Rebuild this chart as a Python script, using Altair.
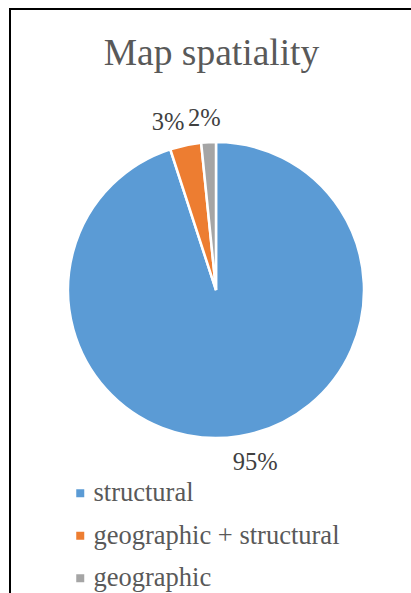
import altair as alt
import pandas as pd

# ---- data ----
categories = ["structural", "geographic + structural", "geographic"]
shares = [95.0, 3.4, 1.6]
pct_labels = ["95%", "3%", "2%"]
colors = ["#5B9BD5", "#ED7D31", "#A5A5A5"]
title_text = "Map spatiality"

df = pd.DataFrame({
    "category": categories,
    "value": shares,
    "label": pct_labels,
    "order": list(range(len(categories))),
})
total = float(sum(shares))

FONT = "Liberation Serif"
CX, CY, R = 216, 290, 148

base = alt.Chart(df)

theta_scale = alt.Scale(domain=[0, total])

arcs = base.mark_arc(radius=R, stroke="white", strokeWidth=2.5).encode(
    theta=alt.Theta("value:Q", stack=True, scale=theta_scale),
    order=alt.Order("order:O"),
    color=alt.Color(
        "category:N",
        scale=alt.Scale(domain=categories, range=colors),
        sort=categories,
        title=None,
        legend=alt.Legend(
            orient="none",
            legendX=67,
            legendY=480,
            padding=0,
            symbolType="square",
            symbolSize=64,
            symbolStrokeWidth=0,
            labelFont=FONT,
            labelFontSize=26.5,
            labelColor="#595959",
            labelOffset=0,
            rowPadding=15.5,
            labelLimit=400,
        ),
    ),
    x=alt.value(CX),
    y=alt.value(CY),
)

label_base = base.transform_window(
    cum="sum(value)", sort=[alt.SortField("order")], frame=[None, 0]
).transform_calculate(mid="datum.cum - datum.value / 2")


def label_layer(cat, dx, dy):
    return label_base.transform_filter(alt.datum.category == cat).mark_text(
        radius=174, font=FONT, fontSize=24.5, color="#404040",
        align="center", baseline="middle", dx=dx, dy=dy,
    ).encode(
        theta=alt.Theta("mid:Q", stack=False, scale=theta_scale),
        text="label:N",
        x=alt.value(CX),
        y=alt.value(CY),
    )


labels = (
    label_layer(categories[0], 12, 1)
    + label_layer(categories[1], -12, 3)
    + label_layer(categories[2], -3, 3)
)

title = alt.Chart(pd.DataFrame({"t": [title_text]})).mark_text(
    font=FONT, fontSize=37.5, color="#595959", align="center", baseline="alphabetic"
).encode(text="t:N", x=alt.value(211.5), y=alt.value(64.5))

border_top = alt.Chart(pd.DataFrame({"a": [0]})).mark_rule(color="black", strokeWidth=2).encode(
    x=alt.value(9), x2=alt.value(411), y=alt.value(9)
)
border_left = alt.Chart(pd.DataFrame({"a": [0]})).mark_rule(color="black", strokeWidth=2).encode(
    x=alt.value(10), y=alt.value(8), y2=alt.value(593)
)

chart = alt.layer(arcs, labels, title, border_top, border_left).properties(
    width=411, height=593, padding=0, autosize="none"
).configure_view(strokeWidth=0)

chart.save("out.html", embed_options={"renderer": "svg", "actions": False})
